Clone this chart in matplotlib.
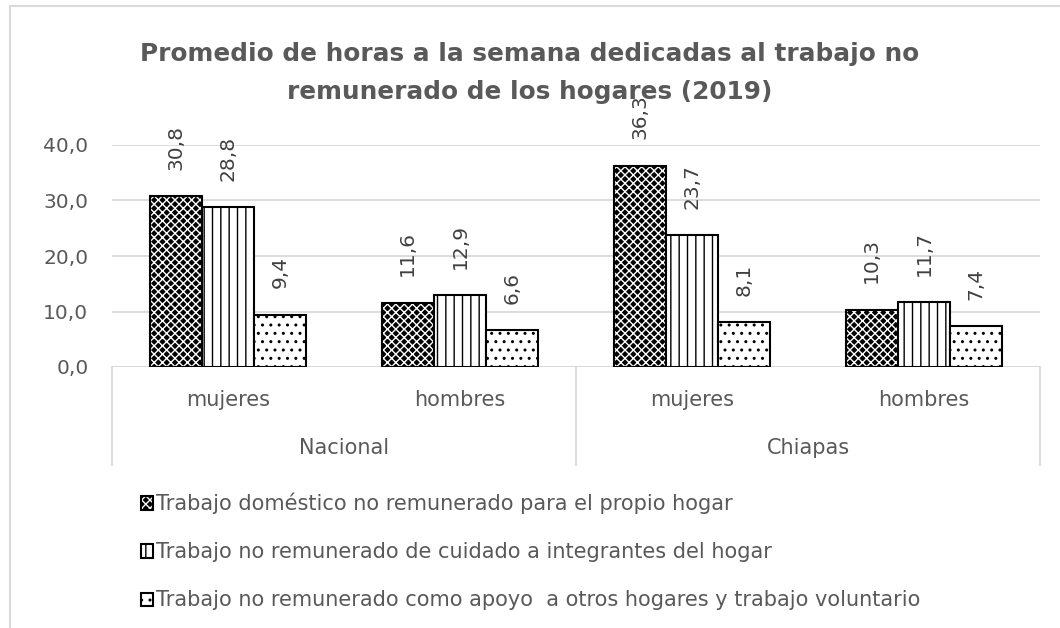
import matplotlib
matplotlib.use("Agg")
import matplotlib.pyplot as plt
import numpy as np
from matplotlib.patches import Patch
from matplotlib.lines import Line2D

plt.rcParams['font.family'] = ['DejaVu Sans']
plt.rcParams['hatch.linewidth'] = 1.0

# data
regions = ['Nacional', 'Chiapas']
sexes = ['mujeres', 'hombres', 'mujeres', 'hombres']
series_names = ['Trabajo doméstico no remunerado para el propio hogar',
                'Trabajo no remunerado de cuidado a integrantes del hogar',
                'Trabajo no remunerado como apoyo  a otros hogares y trabajo voluntario']
domestico = [30.8, 11.6, 36.3, 10.3]
cuidado = [28.8, 12.9, 23.7, 11.7]
apoyo = [9.4, 6.6, 8.1, 7.4]
yticks = [0, 10, 20, 30, 40]

txt = '#404040'
grid = '#d9d9d9'

fig = plt.figure(figsize=(10.6, 6.28), dpi=100)
ax = fig.add_axes([112/1060, 1 - 367/628, 928/1060, 222/628])

x = np.arange(len(sexes))
w = 0.225
fmt = lambda v: f'{v:.1f}'.replace('.', ',')

# series 1: black with white crosshatch
ax.bar(x - w, domestico, w, color='black', edgecolor='white', hatch='xxxx', lw=0, zorder=2)
ax.bar(x - w, domestico, w, facecolor='none', edgecolor='black', lw=1.5, zorder=3)
ax.bar(x, cuidado, w, facecolor='white', edgecolor='black', hatch='||', lw=1.5, zorder=3)
ax.bar(x + w, apoyo, w, facecolor='white', edgecolor='black', hatch='..', lw=1.5, zorder=3)

for off, vals in [(-w, domestico), (0, cuidado), (w, apoyo)]:
    for xi, v in zip(x, vals):
        ax.annotate(fmt(v), (xi + off, v), xytext=(0, 19), textcoords='offset points',
                    rotation=90, ha='center', va='bottom', fontsize=14.5, color=txt,
                    annotation_clip=False)

ax.set_xlim(-0.5, 3.5)
ax.set_ylim(0, 40)
ax.set_yticks(yticks)
ax.set_yticklabels([fmt(v) for v in yticks], fontsize=14.5, color='#595959')
ax.tick_params(axis='y', length=0, pad=17)
ax.set_xticks([])
for s in ax.spines.values():
    s.set_visible(False)
ax.grid(axis='y', color=grid, lw=1.3, zorder=0)
ax.axhline(0, color=grid, lw=1.3, zorder=1)

# category labels
tr = ax.get_xaxis_transform()
for xi, s in zip(x, sexes):
    ax.text(xi, -0.15, s, transform=tr, ha='center', va='center', fontsize=15, color='#595959')
for i, r in enumerate(regions):
    ax.text(2 * i + 0.5, -0.365, r, transform=tr, ha='center', va='center', fontsize=15, color='#595959')
for xb in [-0.5, 1.5, 3.5]:
    ax.plot([xb, xb], [0, -0.44], transform=tr, color=grid, lw=1.3, clip_on=False)

fig.text(0.5, 1 - 73/628, 'Promedio de horas a la semana dedicadas al trabajo no\nremunerado de los hogares (2019)',
         ha='center', va='center', fontsize=17.8, fontweight='bold', color='#595959', linespacing=1.75)

handles = [(Patch(facecolor='black', edgecolor='white', hatch='xxxx', lw=0),
            Patch(facecolor='none', edgecolor='black', lw=1.5)),
           Patch(facecolor='white', edgecolor='black', hatch='||', lw=1.5),
           Patch(facecolor='white', edgecolor='black', hatch='..', lw=1.5)]
fig.legend(handles, series_names, loc='upper left', bbox_to_anchor=(122/1060, 1 - 474/628),
           frameon=False, fontsize=15, labelcolor='#595959', handlelength=0.6, handleheight=0.6,
           handletextpad=0.15, labelspacing=1.35)

# outer border
bc = '#d9d9d9'
fig.add_artist(Line2D([10/1060, 10/1060], [0, 1 - 6/628], color=bc, lw=1.5))
fig.add_artist(Line2D([10/1060, 1], [1 - 6/628, 1 - 6/628], color=bc, lw=1.5))

fig.savefig('out.png', dpi=100)
